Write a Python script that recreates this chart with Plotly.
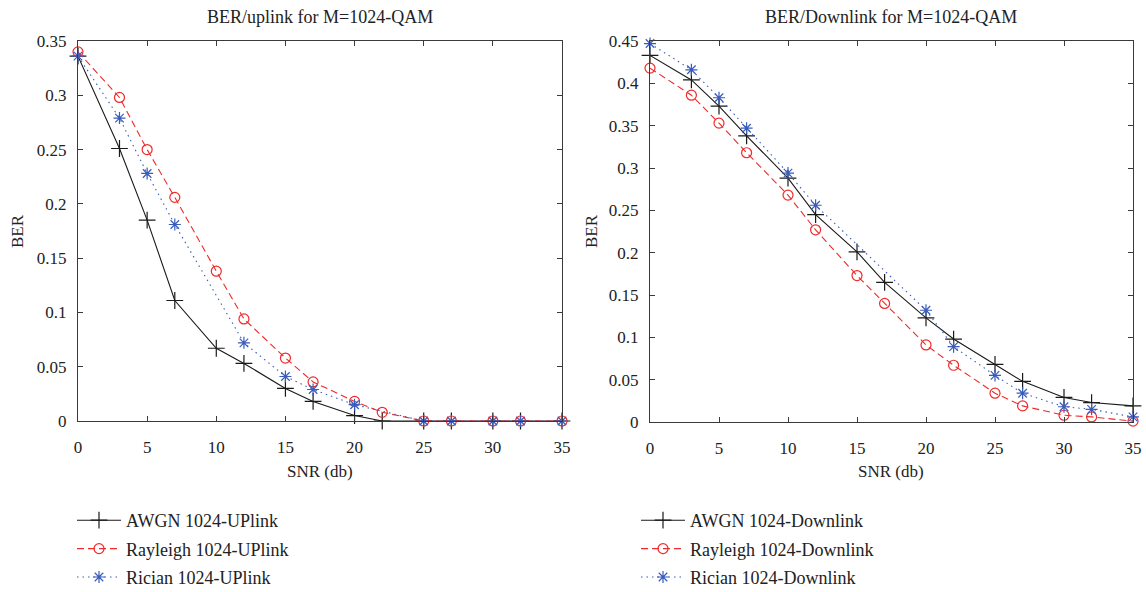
import plotly.graph_objects as go

snr = [0, 3, 5, 7, 10, 12, 15, 17, 20, 22, 25, 27, 30, 32, 35]

# Uplink
up_awgn = [0.336, 0.251, 0.185, 0.111, 0.067, 0.053, 0.030, 0.018, 0.005, 0.0, 0.0, 0.0, 0.0, 0.0, 0.0]
up_rayleigh = [0.340, 0.298, 0.250, 0.206, 0.138, 0.094, 0.058, 0.036, 0.018, 0.008, 0.0, 0.0, 0.0, 0.0, 0.0]
snr_rician_up = [0, 3, 5, 7, 12, 15, 17, 20, 25, 27, 30, 32, 35]
up_rician = [0.336, 0.279, 0.228, 0.181, 0.072, 0.041, 0.029, 0.015, 0.0, 0.0, 0.0, 0.0, 0.0]

# Downlink
dn_awgn = [0.433, 0.404, 0.373, 0.338, 0.288, 0.245, 0.201, 0.165, 0.123, 0.098, 0.068, 0.048, 0.029, 0.023, 0.019]
dn_rayleigh = [0.418, 0.386, 0.353, 0.318, 0.268, 0.227, 0.173, 0.140, 0.091, 0.067, 0.034, 0.019, 0.008, 0.006, 0.001]
snr_rician_dn = [0, 3, 5, 7, 10, 12, 20, 22, 25, 27, 30, 32, 35]
dn_rician = [0.447, 0.416, 0.383, 0.347, 0.294, 0.256, 0.132, 0.089, 0.055, 0.034, 0.018, 0.015, 0.006]

FONT = "Liberation Serif"
FS = 18
FS_TICK = 17
TXT = "#222222"
BLACK = "#1a1a1a"
RED = "#ee2a2a"
BLUE = "#3a5cbc"

fig = go.Figure()

def add(x, y, name, color, dash, symbol, size, xa, ya, legend, group):
    fig.add_trace(go.Scatter(
        x=x, y=y, name=name, mode="lines+markers",
        line=dict(color=color, width=1.1, dash=dash),
        marker=dict(symbol=symbol, size=size, color=color, line=dict(color=color, width=1.2)),
        xaxis=xa, yaxis=ya, legend=legend, legendgroup=group, cliponaxis=False,
    ))

DASH = "7px,4px"
DOT = "1.5px,4px"
add(snr, up_awgn, "AWGN 1024-UPlink", BLACK, "solid", "cross-thin", 12, "x", "y", "legend", "a")
add(snr, up_rayleigh, "Rayleigh 1024-UPlink", RED, DASH, "circle-open", 10, "x", "y", "legend", "b")
add(snr_rician_up, up_rician, "Rician 1024-UPlink", BLUE, DOT, "asterisk-open", 10, "x", "y", "legend", "c")

add(snr, dn_awgn, "AWGN 1024-Downlink", BLACK, "solid", "cross-thin", 12, "x2", "y2", "legend2", "d")
add(snr, dn_rayleigh, "Rayleigh 1024-Downlink", RED, DASH, "circle-open", 10, "x2", "y2", "legend2", "e")
add(snr_rician_dn, dn_rician, "Rician 1024-Downlink", BLUE, DOT, "asterisk-open", 10, "x2", "y2", "legend2", "f")

W, H = 1146, 592
def px(x):
    return x / W
def py(y):
    return 1 - y / H

axis_common = dict(
    showline=True, linecolor="#3a3a3a", linewidth=1.3, mirror="ticks",
    ticks="inside", ticklen=5, tickcolor="#3a3a3a", tickwidth=1,
    showgrid=False, zeroline=False, automargin=False,
    tickfont=dict(family=FONT, size=FS_TICK, color=TXT),
)

leg_common = dict(xanchor="left", yanchor="top", bgcolor="rgba(0,0,0,0)",
                  font=dict(family=FONT, size=FS, color=TXT), tracegroupgap=2, itemwidth=44)

fig.update_layout(
    width=W, height=H,
    margin=dict(l=0, r=0, t=0, b=0, autoexpand=False),
    paper_bgcolor="white", plot_bgcolor="white",
    font=dict(family=FONT, size=FS, color=TXT),
    xaxis=dict(domain=[px(78), px(562)], range=[0, 35], tickvals=[0, 5, 10, 15, 20, 25, 30, 35], anchor="y",
               ticklabelstandoff=10, **axis_common),
    yaxis=dict(domain=[py(421), py(41)], range=[0, 0.35], dtick=0.05, anchor="x", ticklabelstandoff=7, **axis_common),
    xaxis2=dict(domain=[px(650), px(1133)], range=[0, 35], tickvals=[0, 5, 10, 15, 20, 25, 30, 35], anchor="y2",
                ticklabelstandoff=10, **axis_common),
    yaxis2=dict(domain=[py(422), py(41)], range=[0, 0.45], dtick=0.05, anchor="x2", ticklabelstandoff=7, **axis_common),
    legend=dict(x=px(72), y=py(502), **leg_common),
    legend2=dict(x=px(636), y=py(502), **leg_common),
    showlegend=True,
)

annots = [
    dict(text="BER/uplink for M=1024-QAM", x=px(320), y=py(17), size=FS),
    dict(text="BER/Downlink for M=1024-QAM", x=px(891), y=py(17), size=FS),
    dict(text="SNR (db)", x=px(320), y=py(471), size=FS_TICK),
    dict(text="SNR (db)", x=px(891), y=py(471), size=FS_TICK),
    dict(text="BER", x=px(18), y=py(231), textangle=-90, size=FS_TICK),
    dict(text="BER", x=px(592), y=py(231), textangle=-90, size=FS_TICK),
]
for a in annots:
    size = a.pop("size")
    fig.add_annotation(xref="paper", yref="paper", showarrow=False, xanchor="center", yanchor="middle",
                       font=dict(family=FONT, size=size, color=TXT), **a)

fig.write_html("out.html")
